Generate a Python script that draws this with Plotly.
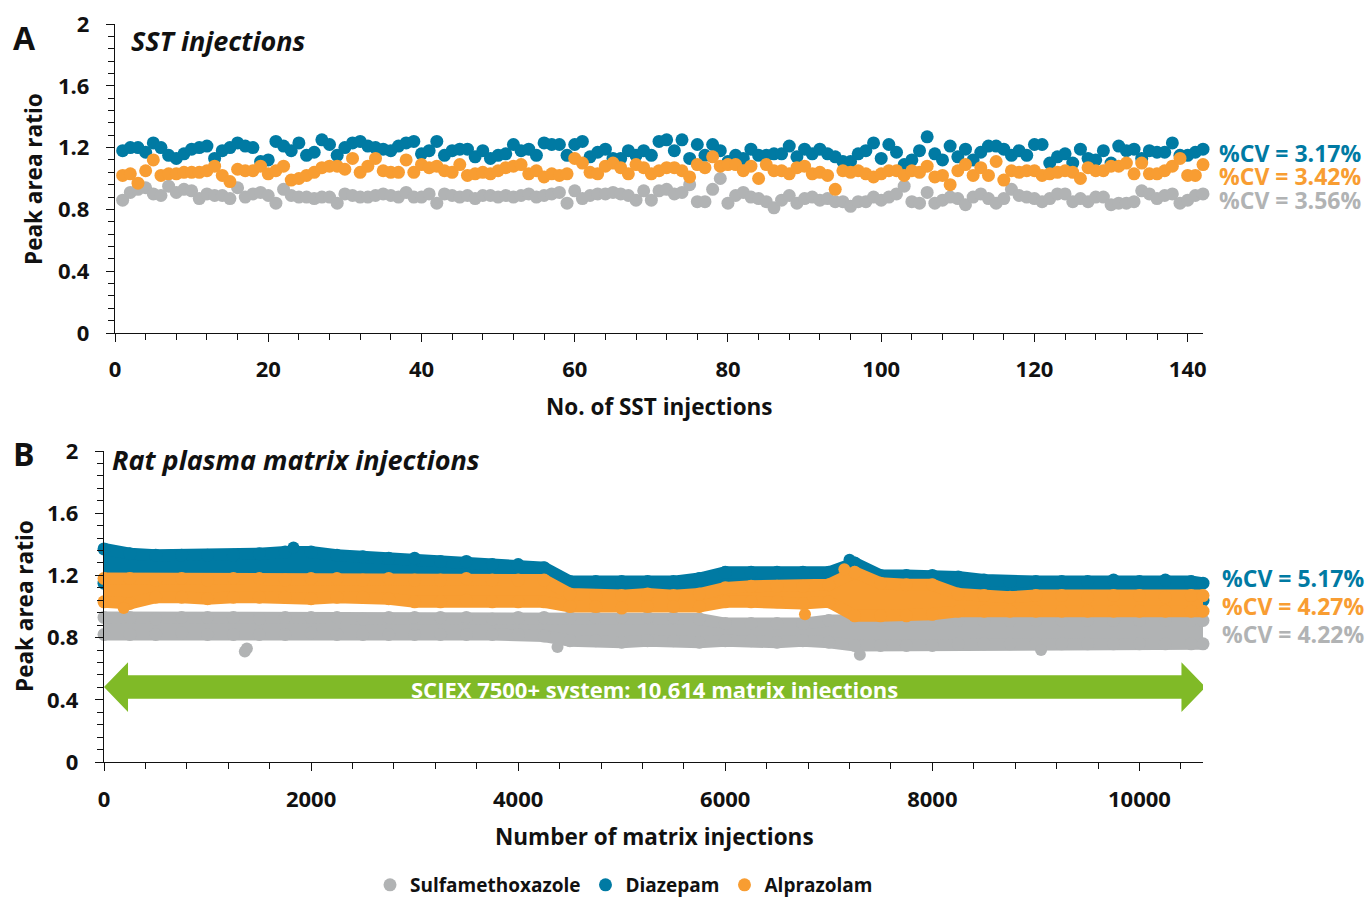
import plotly.graph_objects as go

FONT = "Open Sans"
BLUE = "#007AA3"
ORANGE = "#F89D32"
GRAY = "#B1B3B4"
GREEN = "#80BA27"
BLACK = "#111111"

# ---------------- Panel A: SST injections ----------------
sst_injection = list(range(1, 143))

sst_diazepam = [
    1.18, 1.20, 1.20, 1.17, 1.23, 1.20, 1.15, 1.13, 1.16, 1.19, 1.20, 1.21, 1.13, 1.18, 1.20, 1.23, 1.21, 1.20,
    1.11, 1.12, 1.24, 1.21, 1.18, 1.23, 1.15, 1.17, 1.25, 1.22, 1.15, 1.20, 1.23, 1.24, 1.21, 1.20, 1.19,
    1.18, 1.21, 1.23, 1.24, 1.16, 1.18, 1.24, 1.15, 1.18, 1.19, 1.19, 1.14, 1.18, 1.13, 1.15, 1.16, 1.22, 1.18,
    1.19, 1.15, 1.23, 1.22, 1.22, 1.15, 1.22, 1.24, 1.14, 1.17, 1.19, 1.13, 1.13, 1.18, 1.15, 1.18, 1.15, 1.24,
    1.25, 1.18, 1.25, 1.13, 1.22, 1.15, 1.22, 1.18, 1.11, 1.15, 1.13, 1.19, 1.15, 1.15, 1.16, 1.16, 1.21, 1.14,
    1.19, 1.16, 1.19, 1.16, 1.14, 1.11, 1.11, 1.16, 1.18, 1.23, 1.13, 1.22, 1.17, 1.09, 1.12, 1.18, 1.27, 1.16,
    1.12, 1.21, 1.14, 1.19, 1.12, 1.17, 1.21, 1.21, 1.19, 1.15, 1.18, 1.15, 1.22, 1.22, 1.10, 1.14, 1.16, 1.10,
    1.19, 1.13, 1.12, 1.18, 1.10, 1.21, 1.18, 1.19, 1.13, 1.18, 1.17, 1.17, 1.23, 1.15, 1.15, 1.17, 1.19,
]

sst_alprazolam = [
    1.02, 1.03, 0.97, 1.05, 1.12, 1.02, 1.03, 1.03, 1.04, 1.04, 1.04, 1.05, 1.08, 1.02, 0.98, 1.06, 1.05, 1.05,
    1.08, 1.03, 1.05, 1.08, 0.99, 1.00, 1.02, 1.04, 1.07, 1.08, 1.08, 1.06, 1.13, 1.04, 1.08, 1.13, 1.05,
    1.04, 1.04, 1.12, 1.04, 1.09, 1.07, 1.08, 1.05, 1.04, 1.09, 1.02, 1.03, 1.04, 1.03, 1.05, 1.07, 1.08, 1.09,
    1.03, 1.05, 1.01, 1.03, 1.02, 1.03, 1.13, 1.10, 1.04, 1.03, 1.08, 1.10, 1.07, 1.03, 1.09, 1.07, 1.03, 1.05,
    1.07, 1.07, 1.05, 1.01, 1.09, 1.07, 1.14, 1.08, 1.09, 1.09, 1.05, 1.08, 1.00, 1.09, 1.05, 1.05, 1.03, 1.07,
    1.08, 1.03, 1.04, 1.02, 0.93, 1.05, 1.04, 1.05, 1.03, 1.01, 1.03, 1.05, 1.05, 1.02, 1.05, 1.04, 1.08, 1.01,
    1.02, 0.96, 1.05, 1.09, 1.02, 1.07, 1.02, 1.11, 0.99, 1.05, 1.04, 1.05, 1.05, 1.02, 1.03, 1.04, 1.05, 1.04,
    1.00, 1.07, 1.05, 1.05, 1.08, 1.08, 1.10, 1.03, 1.10, 1.03, 1.03, 1.05, 1.08, 1.13, 1.02, 1.02, 1.09,
]

sst_sulfamethoxazole = [
    0.86, 0.91, 0.93, 0.94, 0.90, 0.89, 0.95, 0.91, 0.93, 0.92, 0.87, 0.90, 0.89, 0.89, 0.87, 0.94, 0.88, 0.90,
    0.91, 0.89, 0.84, 0.93, 0.89, 0.88, 0.88, 0.87, 0.88, 0.88, 0.84, 0.90, 0.89, 0.88, 0.88, 0.89, 0.90,
    0.89, 0.88, 0.91, 0.88, 0.88, 0.90, 0.84, 0.90, 0.89, 0.88, 0.89, 0.87, 0.89, 0.89, 0.88, 0.89, 0.88, 0.89,
    0.90, 0.88, 0.89, 0.90, 0.91, 0.84, 0.92, 0.87, 0.89, 0.90, 0.90, 0.91, 0.90, 0.89, 0.86, 0.92, 0.86, 0.92,
    0.93, 0.90, 0.91, 0.96, 0.85, 0.85, 0.93, 1.00, 0.84, 0.89, 0.91, 0.88, 0.87, 0.85, 0.81, 0.86, 0.89, 0.84,
    0.87, 0.88, 0.86, 0.87, 0.85, 0.85, 0.82, 0.85, 0.85, 0.88, 0.86, 0.88, 0.90, 0.95, 0.85, 0.84, 0.91, 0.84,
    0.86, 0.88, 0.87, 0.83, 0.88, 0.90, 0.87, 0.84, 0.87, 0.93, 0.89, 0.88, 0.87, 0.85, 0.87, 0.90, 0.90, 0.85,
    0.87, 0.85, 0.88, 0.88, 0.83, 0.84, 0.84, 0.85, 0.92, 0.90, 0.87, 0.89, 0.90, 0.84, 0.86, 0.89, 0.90,
]

sst_cv = {"Diazepam": "%CV = 3.17%", "Alprazolam": "%CV = 3.42%", "Sulfamethoxazole": "%CV = 3.56%"}

# ---------------- Panel B: rat plasma matrix injections (band envelopes) ----------------
matrix_injection = [0, 250, 500, 750, 1000, 1250, 1500, 1750, 2000, 2250, 2500, 2750, 3000, 3250, 3500, 3750,
                    4000, 4250, 4500, 4750, 5000, 5250, 5500, 5750, 6000, 6250, 6500, 6750, 7000, 7250, 7500,
                    7750, 8000, 8250, 8500, 8750, 9000, 9250, 9500, 9750, 10000, 10250, 10500, 10614]

diazepam_upper = [1.37, 1.34, 1.33, 1.33, 1.33, 1.33, 1.34, 1.35, 1.35, 1.33, 1.32, 1.31, 1.31, 1.29, 1.29, 1.27,
                  1.27, 1.25, 1.16, 1.16, 1.16, 1.16, 1.16, 1.18, 1.22, 1.22, 1.22, 1.22, 1.22, 1.28, 1.20,
                  1.20, 1.20, 1.19, 1.17, 1.16, 1.16, 1.16, 1.16, 1.17, 1.16, 1.17, 1.16, 1.15]
diazepam_lower = [1.15, 1.15, 1.14, 1.15, 1.14, 1.15, 1.15, 1.14, 1.15, 1.15, 1.14, 1.15, 1.14, 1.14, 1.15, 1.14,
                  1.14, 1.14, 1.05, 1.04, 1.04, 1.05, 1.04, 1.05, 1.09, 1.10, 1.10, 1.10, 1.11, 1.15, 1.12,
                  1.11, 1.11, 1.05, 1.04, 1.03, 1.04, 1.04, 1.03, 1.04, 1.04, 1.03, 1.04, 1.04]

alprazolam_upper = [1.18, 1.18, 1.17, 1.18, 1.17, 1.18, 1.18, 1.17, 1.18, 1.18, 1.17, 1.18, 1.17, 1.17, 1.18, 1.17,
                    1.17, 1.17, 1.08, 1.07, 1.07, 1.08, 1.07, 1.08, 1.12, 1.13, 1.13, 1.13, 1.14, 1.22, 1.15,
                    1.14, 1.14, 1.08, 1.07, 1.06, 1.07, 1.07, 1.06, 1.07, 1.07, 1.06, 1.07, 1.07]
alprazolam_lower = [1.03, 1.02, 1.06, 1.06, 1.05, 1.06, 1.06, 1.06, 1.05, 1.06, 1.06, 1.05, 1.03, 1.03, 1.04, 1.03,
                    1.03, 1.03, 1.00, 1.00, 0.99, 1.00, 1.00, 1.00, 1.03, 1.03, 1.03, 1.02, 1.03, 0.94, 0.94,
                    0.94, 0.95, 0.97, 0.97, 0.97, 0.97, 0.97, 0.97, 0.97, 0.97, 0.97, 0.97, 0.97]

sulfamethoxazole_upper = [0.93, 0.93, 0.92, 0.93, 0.93, 0.93, 0.92, 0.93, 0.93, 0.93, 0.92, 0.93, 0.93, 0.93, 0.93,
                          0.92, 0.93, 0.93, 0.93, 0.93, 0.93, 0.93, 0.93, 0.92, 0.89, 0.89, 0.89, 0.89, 0.91, 0.91,
                          0.91, 0.91, 0.91, 0.91, 0.91, 0.91, 0.91, 0.91, 0.91, 0.91, 0.91, 0.91, 0.91, 0.91]
sulfamethoxazole_lower = [0.82, 0.82, 0.82, 0.83, 0.82, 0.82, 0.82, 0.82, 0.83, 0.82, 0.82, 0.82, 0.82, 0.82, 0.82,
                          0.82, 0.82, 0.81, 0.78, 0.78, 0.77, 0.78, 0.78, 0.77, 0.78, 0.78, 0.77, 0.78, 0.77, 0.75,
                          0.75, 0.75, 0.75, 0.76, 0.76, 0.76, 0.76, 0.76, 0.76, 0.76, 0.76, 0.76, 0.76, 0.76]

# isolated points lying outside the bands
sulfa_out_x = [1360, 1380, 4380, 7300, 9050]
sulfa_out_y = [0.71, 0.73, 0.74, 0.69, 0.72]
diaz_out_x = [1830, 7200]
diaz_out_y = [1.38, 1.30]
alpr_out_x = [190, 6770, 7150]
alpr_out_y = [0.99, 0.95, 1.24]

matrix_cv = {"Diazepam": "%CV = 5.17%", "Alprazolam": "%CV = 4.27%", "Sulfamethoxazole": "%CV = 4.22%"}
matrix_total = 10614

# ---------------- figure ----------------
W, H = 1370, 902


def px(xp):
    return xp / W


def py(yp):
    return 1 - yp / H


fig = go.Figure()

series_top = [("Sulfamethoxazole", sst_sulfamethoxazole, GRAY),
              ("Diazepam", sst_diazepam, BLUE),
              ("Alprazolam", sst_alprazolam, ORANGE)]
for name, vals, col in series_top:
    fig.add_trace(go.Scatter(x=sst_injection, y=vals, mode="markers", name=name,
                             marker=dict(size=13, color=col, line=dict(width=0)),
                             cliponaxis=False, xaxis="x", yaxis="y"))

bands = [(sulfamethoxazole_upper, sulfamethoxazole_lower, GRAY, sulfa_out_x, sulfa_out_y),
         (diazepam_upper, diazepam_lower, BLUE, diaz_out_x, diaz_out_y),
         (alprazolam_upper, alprazolam_lower, ORANGE, alpr_out_x, alpr_out_y)]
for up, lo, col, ox, oy in bands:
    fig.add_trace(go.Scatter(x=matrix_injection + matrix_injection[::-1], y=up + lo[::-1],
                             mode="lines", fill="toself", fillcolor=col,
                             line=dict(color=col, width=12), showlegend=False, hoverinfo="skip",
                             xaxis="x2", yaxis="y2"))
    fig.add_trace(go.Scatter(x=matrix_injection + matrix_injection, y=up + lo, mode="markers",
                             marker=dict(size=13, color=col), showlegend=False, cliponaxis=False,
                             xaxis="x2", yaxis="y2"))
    fig.add_trace(go.Scatter(x=ox, y=oy, mode="markers", marker=dict(size=12, color=col),
                             showlegend=False, cliponaxis=False, xaxis="x2", yaxis="y2"))

tickfont = dict(family=FONT, size=22, color=BLACK, weight="bold")
common_y = dict(range=[0, 2], tickvals=[0, 0.4, 0.8, 1.2, 1.6, 2], ticktext=["0", "0.4", "0.8", "1.2", "1.6", "2"],
                showline=True, linecolor=BLACK, linewidth=1.3, ticks="outside", ticklen=8, tickwidth=1.3,
                tickcolor=BLACK, showgrid=False, zeroline=False, tickfont=tickfont, ticklabelstandoff=12,
                automargin=False,
                minor=dict(dtick=0.08, ticks="outside", ticklen=6, tickwidth=1, tickcolor=BLACK))
common_x = dict(showline=True, linecolor=BLACK, linewidth=1.3, ticks="outside", ticklen=8, tickwidth=1.3,
                tickcolor=BLACK, showgrid=False, zeroline=False, tickfont=tickfont, automargin=False,
                tickformat="d")

fig.update_layout(
    width=W, height=H, margin=dict(l=0, r=0, t=0, b=0, autoexpand=False),
    paper_bgcolor="white", plot_bgcolor="white",
    font=dict(family=FONT, color=BLACK),
    xaxis=dict(domain=[px(115), px(1203)], range=[0, 142], tickvals=list(range(0, 141, 20)),
               minor=dict(dtick=4, ticks="outside", ticklen=6, tickwidth=1, tickcolor=BLACK),
               anchor="y", ticklabelstandoff=8, **common_x),
    yaxis=dict(domain=[py(333), py(24)], anchor="x", **common_y),
    xaxis2=dict(domain=[px(104), px(1203)], range=[0, matrix_total], tickvals=list(range(0, 10001, 2000)),
                minor=dict(dtick=400, ticks="outside", ticklen=6, tickwidth=1, tickcolor=BLACK),
                anchor="y2", ticklabelstandoff=9, **common_x),
    yaxis2=dict(domain=[py(762), py(451)], anchor="x2", **common_y),
    legend=dict(orientation="h", x=px(624), xanchor="center", y=py(866), yanchor="top",
                font=dict(family=FONT, size=19, color=BLACK, weight="bold"), itemwidth=30,
                bgcolor="rgba(0,0,0,0)"),
    showlegend=True,
)

# double-headed green arrow spanning all matrix injections (panel B, data units)
ay, hs, hh, hl = 0.482, 0.076, 0.16, 232
x0, x1 = 0, matrix_total + 24
path = (f"M {x0},{ay} L {x0+hl},{ay+hh} L {x0+hl},{ay+hs} L {x1-hl},{ay+hs} L {x1-hl},{ay+hh} "
        f"L {x1},{ay} L {x1-hl},{ay-hh} L {x1-hl},{ay-hs} L {x0+hl},{ay-hs} L {x0+hl},{ay-hh} Z")
fig.add_shape(type="path", path=path, xref="x2", yref="y2", fillcolor=GREEN, line=dict(width=0), layer="above")

ann = []


def add_text(text, x, y, size, color=BLACK, xanchor="center", italic=False, angle=0):
    ann.append(dict(text=f"<i>{text}</i>" if italic else text, x=px(x), y=py(y), xref="paper", yref="paper",
                    xanchor=xanchor, yanchor="middle", showarrow=False, textangle=angle,
                    font=dict(family=FONT, size=size, color=color, weight="bold")))


add_text("A", 11, 37, 32, xanchor="left")
add_text("SST injections", 129, 41, 27, xanchor="left", italic=True)
add_text("B", 11, 453, 32, xanchor="left")
add_text("Rat plasma matrix injections", 110, 459, 27, xanchor="left", italic=True)
add_text("Peak area ratio", 33, 179, 22.5, angle=-90)
add_text("Peak area ratio", 24, 606, 22.5, angle=-90)
add_text("No. of SST injections", 659, 407, 22.5)
add_text("Number of matrix injections", 654, 836, 22.5)
add_text(sst_cv["Diazepam"], 1363, 153, 23, BLUE, xanchor="right")
add_text(sst_cv["Alprazolam"], 1363, 176, 23, ORANGE, xanchor="right")
add_text(sst_cv["Sulfamethoxazole"], 1363, 200, 23, GRAY, xanchor="right")
add_text(matrix_cv["Diazepam"], 1366, 578, 23, BLUE, xanchor="right")
add_text(matrix_cv["Alprazolam"], 1366, 606, 23, ORANGE, xanchor="right")
add_text(matrix_cv["Sulfamethoxazole"], 1366, 634, 23, GRAY, xanchor="right")
add_text(f"SCIEX 7500+ system: {matrix_total:,} matrix injections", 654, 689, 22, "white")
fig.update_layout(annotations=ann)

fig.write_html("out.html", config={"displayModeBar": False},
               post_script="document.body.style.margin='0';document.body.style.overflow='hidden';")
